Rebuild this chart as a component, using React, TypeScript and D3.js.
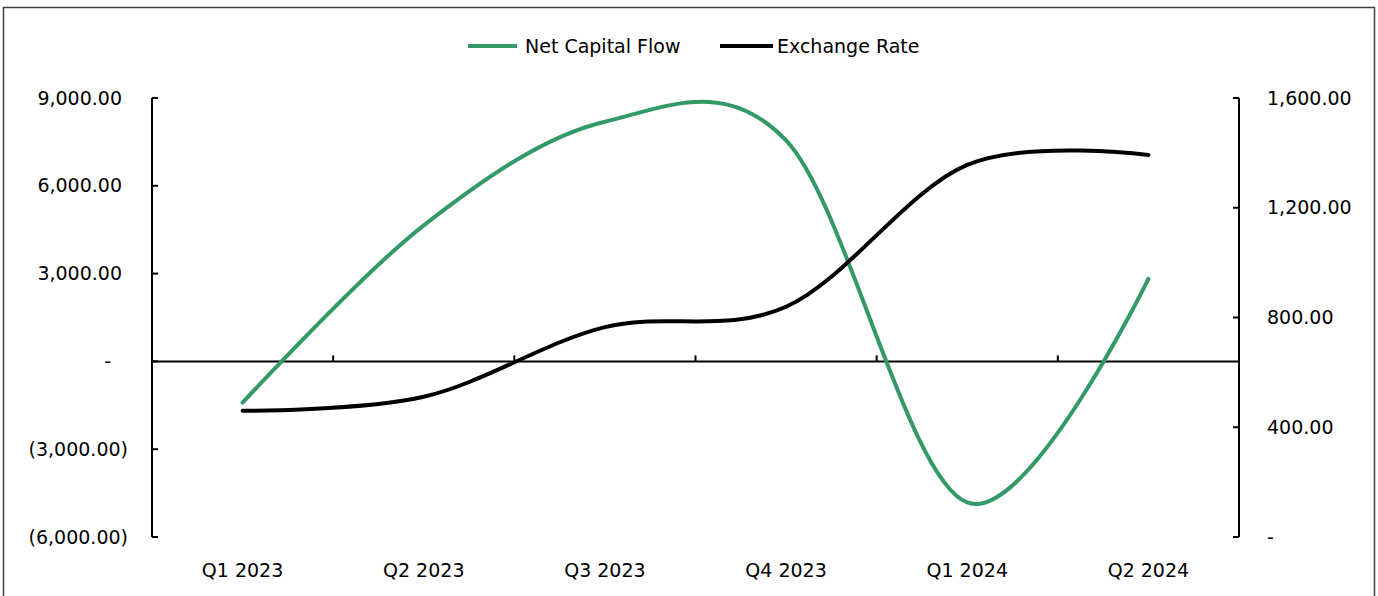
import React from "react";
import * as d3 from "d3";

const categories = ["Q1 2023", "Q2 2023", "Q3 2023", "Q4 2023", "Q1 2024", "Q2 2024"];
const netCapitalFlow = [-1410, 4650, 8190, 7550, -4820, 2820];
const exchangeRate = [460, 511, 765, 839, 1356, 1392];
const leftTicks = [-6000, -3000, 0, 3000, 6000, 9000];
const rightTicks = [0, 400, 800, 1200, 1600];
const seriesNames = ["Net Capital Flow", "Exchange Rate"];

const W = 1378;
const H = 596;
const FONT = "'DejaVu Sans', sans-serif";
const GREEN = "#339966";

const fmtNum = d3.format(",.2f");
function leftLabel(v: number) {
  if (v === 0) return "-";
  if (v < 0) return "(" + fmtNum(-v) + ")";
  return fmtNum(v);
}
function rightLabel(v: number) {
  if (v === 0) return "-";
  return fmtNum(v);
}

export default function App() {
  const x0 = 152, x1 = 1239, yTop = 98, yBot = 537;
  const x = d3.scaleBand<string>().domain(categories).range([x0, x1]).padding(0);
  const yL = d3.scaleLinear().domain([-6000, 9000]).range([yBot, yTop]);
  const yR = d3.scaleLinear().domain([0, 1600]).range([yBot, yTop]);
  const cx = (c: string) => (x(c) as number) + x.bandwidth() / 2;

  const curve = d3.curveCardinal.tension(0);
  const greenPath = d3.line<number>().x((_, i) => cx(categories[i])).y((v) => yL(v)).curve(curve)(netCapitalFlow) || "";
  const blackPath = d3.line<number>().x((_, i) => cx(categories[i])).y((v) => yR(v)).curve(curve)(exchangeRate) || "";

  const zeroY = yL(0);
  const boundaries = categories.slice(1).map((c) => x(c) as number);

  return (
    <svg width={W} height={H} style={{ position: "absolute", left: 0, top: 0, background: "#fff" }} fontFamily={FONT}>
      <rect x={3.5} y={7.5} width={1371} height={600} fill="#fff" stroke="#404040" strokeWidth={1.5} />

      {/* legend */}
      <g>
        <line x1={468} x2={517} y1={46} y2={46} stroke={GREEN} strokeWidth={4} />
        <text x={525} y={46} dy="0.35em" fontSize={19} fill="#000">{seriesNames[0]}</text>
        <line x1={720} x2={773} y1={46} y2={46} stroke="#000" strokeWidth={4} />
        <text x={777} y={46} dy="0.35em" fontSize={19} fill="#000">{seriesNames[1]}</text>
      </g>

      {/* left axis */}
      <line x1={x0} x2={x0} y1={yTop} y2={yBot} stroke="#000" strokeWidth={2} />
      {leftTicks.map((t) => (
        <g key={"l" + t}>
          <line x1={x0} x2={x0 + 6} y1={yL(t)} y2={yL(t)} stroke="#000" strokeWidth={2} />
          <text
            x={t < 0 ? 128 : t === 0 ? 111 : 122}
            y={yL(t)}
            dy="0.35em"
            textAnchor="end"
            fontSize={19}
            fill="#000"
          >
            {leftLabel(t)}
          </text>
        </g>
      ))}

      {/* right axis */}
      <line x1={x1} x2={x1} y1={yTop} y2={yBot} stroke="#000" strokeWidth={2} />
      {rightTicks.map((t) => (
        <g key={"r" + t}>
          <line x1={x1 - 6} x2={x1} y1={yR(t)} y2={yR(t)} stroke="#000" strokeWidth={2} />
          <text x={1267} y={yR(t)} dy="0.35em" textAnchor="start" fontSize={19} fill="#000">
            {rightLabel(t)}
          </text>
        </g>
      ))}

      {/* horizontal category axis at zero */}
      <line x1={x0} x2={x1} y1={zeroY} y2={zeroY} stroke="#000" strokeWidth={2} />
      {boundaries.map((b, i) => (
        <line key={"b" + i} x1={b} x2={b} y1={zeroY} y2={zeroY - 6} stroke="#000" strokeWidth={2} />
      ))}
      {categories.map((c) => (
        <text key={c} x={cx(c)} y={570} dy="0.35em" textAnchor="middle" fontSize={19} fill="#000">
          {c}
        </text>
      ))}

      {/* series */}
      <path d={greenPath} fill="none" stroke={GREEN} strokeWidth={4} strokeLinecap="round" />
      <path d={blackPath} fill="none" stroke="#000" strokeWidth={4} strokeLinecap="round" />
    </svg>
  );
}
